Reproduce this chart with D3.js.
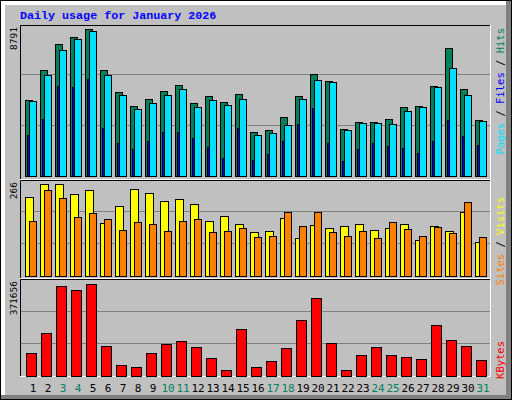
<!DOCTYPE html>
<html><head><meta charset="utf-8">
<script src="https://cdn.jsdelivr.net/npm/d3@7"></script>
<style>body{margin:0;background:#fff}</style></head>
<body><svg id="c" width="512" height="400"></svg>
<script>
const days = d3.range(1, 32);
const weekend = [3,4,10,11,17,18,24,25,31];
const hits  = [4545,6339,7894,8312,8791,6339,5023,4186,4605,5083,5442,4365,4784,4425,4904,2631,2751,3528,4784,6100,5681,2811,3229,3229,3409,4126,4186,5382,7654,5203,3349];
const files = [4485,6040,7535,8193,8671,6040,4844,4007,4365,4844,5203,4126,4545,4246,4605,2452,2571,3050,4605,5741,5621,2751,3169,3169,3110,3887,4126,5322,6458,4844,3289];
const pages = [2452,3409,5382,5322,5801,2870,1973,1615,2093,2631,2631,2272,1734,1076,2870,957,1316,2093,3110,4066,1973,897,1615,1973,1794,1674,1375,2093,3349,2392,1854];
const sites = [228,266,266,237,249,153,202,251,240,217,222,208,159,173,150,127,130,168,109,147,138,144,150,133,138,150,103,144,130,184,97];
const visits= [159,249,225,170,182,164,132,156,150,130,159,164,127,130,138,112,115,185,144,185,127,115,130,109,156,135,115,141,124,214,112];
const kbytes= [94920,172212,363408,347136,371656,119328,46104,37968,94920,127464,139668,115260,74580,25764,188484,37968,62376,111192,225096,314592,131532,25764,86784,115260,86784,78648,70512,204756,143736,119328,66444];
const title = "Daily usage for January 2026";

const svg = d3.select("#c");
// background & bevel
svg.append("rect").attr("x",0).attr("y",0).attr("width",512).attr("height",400).attr("fill","#000");
svg.append("rect").attr("x",1).attr("y",1).attr("width",510).attr("height",398).attr("fill","#808080");
svg.append("rect").attr("x",1).attr("y",1).attr("width",505).attr("height",394).attr("fill","#fff");
svg.append("rect").attr("x",5).attr("y",5).attr("width",501).attr("height",390).attr("fill","#c0c0c0");

svg.append("text").attr("x",20).attr("y",19).text(title)
  .attr("font-family","Liberation Mono, DejaVu Sans Mono, monospace").attr("font-weight","bold")
  .attr("font-size",11.7).attr("fill","#0000ff");

const x = d3.scaleBand().domain(days).range([21,486]).paddingInner(0);
const X0 = 20, X1 = 491;

function panel(y0, y1, base, maxPx, maxVal, label){
  // frame
  svg.append("rect").attr("x",X0).attr("y",y0).attr("width",X1-X0).attr("height",y1-y0)
    .attr("fill","#c0c0c0").attr("stroke","none");
  svg.append("path").attr("d",`M${X0+.5},${y1}V${y0+.5}H${X1}`).attr("stroke","#000").attr("fill","none");
  svg.append("path").attr("d",`M${X0},${y1-.5}H${X1-.5}V${y0}`).attr("stroke","#fff").attr("fill","none");
  const y = d3.scaleLinear().domain([0,maxVal]).range([base, base-maxPx]);
  const step = (maxPx+6)/3;
  [1,2].forEach(k=>svg.append("line").attr("x1",X0+1).attr("x2",X1-1)
    .attr("y1",Math.round(base-step*k)+.5).attr("y2",Math.round(base-step*k)+.5).attr("stroke","#808080"));
  svg.append("text").attr("transform",`translate(17,${y0+2}) rotate(-90)`).attr("text-anchor","end")
    .attr("font-family","DejaVu Sans Mono, monospace").attr("font-size",9.5).attr("fill","#000").text(label);
  return y;
}
function bars(data, y, off, w, color){
  svg.append("g").selectAll("rect").data(data).join("rect")
    .attr("x",(d,i)=>x(days[i])+off+.5).attr("y",d=>Math.round(y(d))+.5)
    .attr("width",w).attr("height",(d)=>Math.max(0,Math.round(y(0))-Math.round(y(d))))
    .attr("fill",color).attr("stroke","#000");
}
const yTop = panel(25,180,176,147,8791,"8791");
bars(hits,yTop,4,7,"#00805c");
bars(files,yTop,8,7,"#00e0ff");
bars(pages,yTop,6,2,"#0000ff");
const yMid = panel(180,279,276,92,266,"266");
bars(sites,yMid,4,8,"#ffff00");
bars(visits,yMid,8,7,"#ff8000");
const yBot = panel(279,377,376,92,371656,"371656");
bars(kbytes,yBot,5,10,"#ff0000");

function sideLabel(yEnd, parts){
  const t = svg.append("text").attr("transform",`translate(504,${yEnd}) rotate(-90)`).attr("text-anchor","end")
    .attr("font-family","DejaVu Sans Mono, monospace").attr("font-size",10.5);
  parts.forEach(([s,c])=>t.append("tspan").attr("fill",c).text(s));
}
sideLabel(28,[["Pages","#00e0ff"],[" / ","#000"],["Files","#0000ff"],[" / ","#000"],["Hits","#00805c"]]);
sideLabel(197,[["Sites","#ff8000"],[" / ","#000"],["Visits","#ffff00"]]);
sideLabel(341,[["KBytes","#ff0000"]]);

svg.append("g").selectAll("text").data(days).join("text")
  .attr("x",d=>x(d)+12).attr("y",392).attr("text-anchor","middle")
  .attr("font-family","DejaVu Sans Mono, monospace").attr("font-size",11)
  .attr("fill",d=>weekend.includes(d)?"#00805c":"#000").text(d=>d);
</script></body></html>
